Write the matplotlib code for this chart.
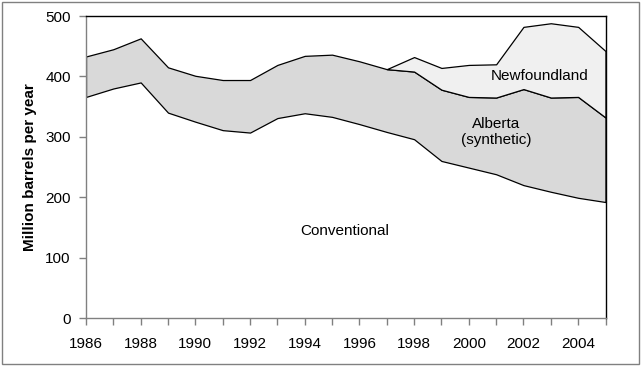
import matplotlib
matplotlib.use("Agg")
import matplotlib.pyplot as plt
from matplotlib.patches import Rectangle
import numpy as np

plt.rcParams['font.family'] = ['Liberation Sans', 'DejaVu Sans']

years = list(range(1986, 2006))
conventional = [366, 380, 390, 340, 325, 311, 307, 331, 339, 333,
                321, 308, 296, 260, 249, 238, 220, 209, 199, 192]
alberta = [67, 65, 73, 75, 76, 83, 87, 88, 95, 103,
           104, 104, 112, 118, 117, 127, 159, 156, 167, 140]
nf_years = list(range(1997, 2006))
newfoundland = [0, 24, 36, 53, 55, 103, 123, 116, 110]

W, H = 643, 371
fig = plt.figure(figsize=(W / 100, H / 100), dpi=100)
fig.patch.set_facecolor('white')

L, R, T, B = 86, 605.5, 16, 318
ax = fig.add_axes([L / W, (H - B) / H, (R - L) / W, (B - T) / H])

yrs = np.array(years)
conv = np.array(conventional)
upper = conv + np.array(alberta)
idx = [years.index(y) for y in nf_years]
nf_base = upper[idx]
nf_top = nf_base + np.array(newfoundland)

ax.fill_between(yrs, 0, conv, facecolor='white', edgecolor='none')
ax.fill_between(yrs, conv, upper, facecolor='#d9d9d9', edgecolor='black',
                linewidth=0.9)
ax.fill_between(np.array(nf_years), nf_base, nf_top, facecolor='#f0f0f0',
                edgecolor='black', linewidth=0.9)

ax.set_xlim(1986, 2005)
ax.set_ylim(0, 500)
ax.set_xticks(years, minor=True)
ax.set_xticks(list(range(1986, 2005, 2)))
ax.set_yticks([0, 100, 200, 300, 400, 500])

for s in ['left', 'bottom']:
    ax.spines[s].set_color('#808080')
    ax.spines[s].set_linewidth(1.0)
for s in ['top', 'right']:
    ax.spines[s].set_color('black')
    ax.spines[s].set_linewidth(1.0)

ax.tick_params(axis='x', which='both', direction='out', length=5, width=1,
               color='#808080', labelsize=11, pad=9)
ax.tick_params(axis='y', which='major', direction='out', length=5, width=1,
               color='#808080', labelsize=11, pad=6)

ax.set_ylabel('Million barrels per year', fontsize=11, fontweight='bold',
              labelpad=6)

ax.text(2002.6, 401, 'Newfoundland', fontsize=11, ha='center', va='center')
ax.text(2001.0, 308, 'Alberta\n(synthetic)', fontsize=11, ha='center',
        va='center', linespacing=1.1)
ax.text(1995.47, 144, 'Conventional', fontsize=11, ha='center', va='center')

fig.patches.append(Rectangle((2 / W, (H - 364) / H), (636.5) / W, (362) / H,
                             transform=fig.transFigure, fill=False,
                             edgecolor='#808080', linewidth=1.0))

fig.savefig('out.png', dpi=100)
